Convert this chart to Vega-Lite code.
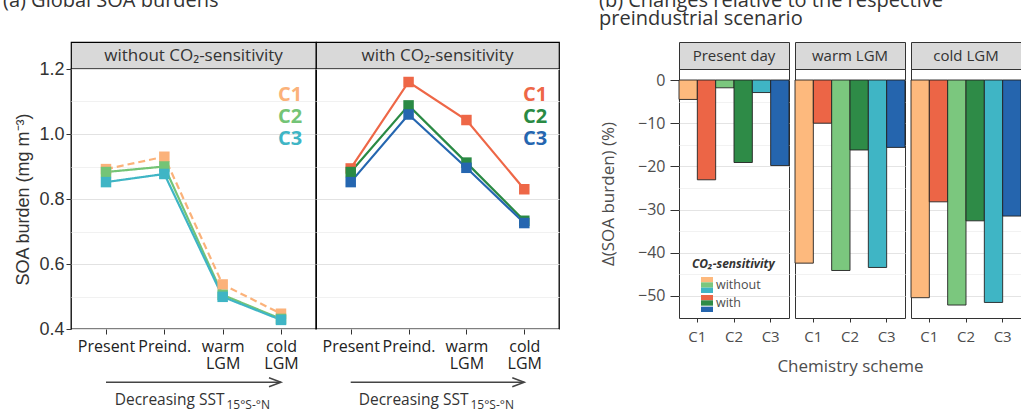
{
  "$schema": "https://vega.github.io/schema/vega-lite/v6.json",
  "padding": {"left": 2, "top": -10, "right": 0, "bottom": 0},
  "config": {
    "font": "Open Sans",
    "axis": {"labelColor": "#333", "titleColor": "#333", "tickColor": "#333", "titleFontWeight": "normal", "domain": false},
    "legend": {"labelFont": "Open Sans", "titleFont": "Open Sans"}
  },
  "datasets": {
    "burden": [
      {"panel": "without", "scheme": "C1", "scenario": "Present", "burden": 0.892},
      {"panel": "without", "scheme": "C1", "scenario": "Preind.", "burden": 0.930},
      {"panel": "without", "scheme": "C1", "scenario": "warm LGM", "burden": 0.537},
      {"panel": "without", "scheme": "C1", "scenario": "cold LGM", "burden": 0.447},
      {"panel": "without", "scheme": "C2", "scenario": "Present", "burden": 0.883},
      {"panel": "without", "scheme": "C2", "scenario": "Preind.", "burden": 0.900},
      {"panel": "without", "scheme": "C2", "scenario": "warm LGM", "burden": 0.505},
      {"panel": "without", "scheme": "C2", "scenario": "cold LGM", "burden": 0.431},
      {"panel": "without", "scheme": "C3", "scenario": "Present", "burden": 0.852},
      {"panel": "without", "scheme": "C3", "scenario": "Preind.", "burden": 0.877},
      {"panel": "without", "scheme": "C3", "scenario": "warm LGM", "burden": 0.499},
      {"panel": "without", "scheme": "C3", "scenario": "cold LGM", "burden": 0.428},
      {"panel": "with", "scheme": "C1", "scenario": "Present", "burden": 0.894},
      {"panel": "with", "scheme": "C1", "scenario": "Preind.", "burden": 1.160},
      {"panel": "with", "scheme": "C1", "scenario": "warm LGM", "burden": 1.043},
      {"panel": "with", "scheme": "C1", "scenario": "cold LGM", "burden": 0.830},
      {"panel": "with", "scheme": "C2", "scenario": "Present", "burden": 0.883},
      {"panel": "with", "scheme": "C2", "scenario": "Preind.", "burden": 1.088},
      {"panel": "with", "scheme": "C2", "scenario": "warm LGM", "burden": 0.912},
      {"panel": "with", "scheme": "C2", "scenario": "cold LGM", "burden": 0.733},
      {"panel": "with", "scheme": "C3", "scenario": "Present", "burden": 0.852},
      {"panel": "with", "scheme": "C3", "scenario": "Preind.", "burden": 1.060},
      {"panel": "with", "scheme": "C3", "scenario": "warm LGM", "burden": 0.896},
      {"panel": "with", "scheme": "C3", "scenario": "cold LGM", "burden": 0.726}
    ],
    "change": [
      {"period": "Present day", "scheme": "C1", "sensitivity": "without", "change": -4.5},
      {"period": "Present day", "scheme": "C1", "sensitivity": "with", "change": -23.1},
      {"period": "Present day", "scheme": "C2", "sensitivity": "without", "change": -1.8},
      {"period": "Present day", "scheme": "C2", "sensitivity": "with", "change": -19.1},
      {"period": "Present day", "scheme": "C3", "sensitivity": "without", "change": -2.9},
      {"period": "Present day", "scheme": "C3", "sensitivity": "with", "change": -19.8},
      {"period": "warm LGM", "scheme": "C1", "sensitivity": "without", "change": -42.4},
      {"period": "warm LGM", "scheme": "C1", "sensitivity": "with", "change": -10.0},
      {"period": "warm LGM", "scheme": "C2", "sensitivity": "without", "change": -44.1},
      {"period": "warm LGM", "scheme": "C2", "sensitivity": "with", "change": -16.2},
      {"period": "warm LGM", "scheme": "C3", "sensitivity": "without", "change": -43.4},
      {"period": "warm LGM", "scheme": "C3", "sensitivity": "with", "change": -15.6},
      {"period": "cold LGM", "scheme": "C1", "sensitivity": "without", "change": -50.4},
      {"period": "cold LGM", "scheme": "C1", "sensitivity": "with", "change": -28.2},
      {"period": "cold LGM", "scheme": "C2", "sensitivity": "without", "change": -52.1},
      {"period": "cold LGM", "scheme": "C2", "sensitivity": "with", "change": -32.6},
      {"period": "cold LGM", "scheme": "C3", "sensitivity": "without", "change": -51.5},
      {"period": "cold LGM", "scheme": "C3", "sensitivity": "with", "change": -31.5}
    ]
  },
  "columns": 8,
  "spacing": 0,
  "bounds": "flush",
  "align": "each",
  "resolve": {"scale": {"color": "independent"}, "legend": {"color": "independent"}},
  "concat": [
    {"width": 245, "height": 27, "view": {"fill": "#d9d9d9", "stroke": "#000", "strokeWidth": 1.2},
     "title": {"text": "(a) Global SOA burdens", "anchor": "start", "frame": "group", "dx": -68, "fontSize": 20, "fontWeight": "normal", "color": "#333", "baseline": "alphabetic", "offset": 15},
     "data": {"values": [{"label": "without CO₂-sensitivity"}]},
     "mark": {"type": "text", "fontSize": 17, "color": "#333"},
     "encoding": {"text": {"field": "label"}}},
    {"width": 243, "height": 27, "view": {"fill": "#d9d9d9", "stroke": "#000", "strokeWidth": 1.2},
     "data": {"values": [{"label": "with CO₂-sensitivity"}]},
     "mark": {"type": "text", "fontSize": 17, "color": "#333"},
     "encoding": {"text": {"field": "label"}}},
    {"width": 120, "height": 1, "view": {"stroke": null}, "data": {"values": []}, "mark": "text", "encoding": {}},
    {"width": 110, "height": 27, "view": {"fill": "#d9d9d9", "stroke": "#333", "strokeWidth": 1},
     "title": {"text": ["(b) Changes relative to the respective", "preindustrial scenario"], "anchor": "start", "frame": "group", "dx": -80, "fontSize": 20, "lineHeight": 18.5, "fontWeight": "normal", "color": "#333", "baseline": "alphabetic", "offset": -3},
     "data": {"values": [{"label": "Present day"}]},
     "mark": {"type": "text", "fontSize": 15, "color": "#333"}, "encoding": {"text": {"field": "label"}}},
    {"width": 6, "height": 1, "view": {"stroke": null}, "data": {"values": []}, "mark": "text", "encoding": {}},
    {"width": 110, "height": 27, "view": {"fill": "#d9d9d9", "stroke": "#333", "strokeWidth": 1},
     "data": {"values": [{"label": "warm LGM"}]},
     "mark": {"type": "text", "fontSize": 15, "color": "#333"}, "encoding": {"text": {"field": "label"}}},
    {"width": 6, "height": 1, "view": {"stroke": null}, "data": {"values": []}, "mark": "text", "encoding": {}},
    {"width": 110, "height": 27, "view": {"fill": "#d9d9d9", "stroke": "#333", "strokeWidth": 1},
     "data": {"values": [{"label": "cold LGM"}]},
     "mark": {"type": "text", "fontSize": 15, "color": "#333"}, "encoding": {"text": {"field": "label"}}},

    {
      "width": 245, "height": 260,
      "view": {"stroke": "#000", "strokeWidth": 1.3},
      "data": {"name": "burden"},
      "transform": [{"filter": "datum.panel == 'without'"}],
      "mark": {"type": "line", "strokeWidth": 2.2, "point": {"shape": "square", "filled": true, "size": 110, "opacity": 1}},
      "encoding": {
        "x": {"field": "scenario", "type": "nominal", "sort": ["Present", "Preind.", "warm LGM", "cold LGM"],
              "scale": {"type": "point", "domain": ["Present", "Preind.", "warm LGM", "cold LGM"], "padding": 0.6},
              "axis": {"title": null, "labelExpr": "split(datum.label, ' ')", "labelAngle": 0, "labelFontSize": 16, "labelLineHeight": 17, "labelPadding": 4, "tickSize": 5, "labelOverlap": false, "labelBound": false, "grid": false, "labelColor": "#222"}},
        "y": {"field": "burden", "type": "quantitative", "scale": {"domain": [0.4, 1.2], "nice": false, "zero": false},
              "axis": {"title": "SOA burden (mg m⁻³)", "values": [0.4, 0.5, 0.6, 0.7, 0.8, 0.9, 1.0, 1.1, 1.2],
                       "labelExpr": "round(datum.value*10) % 2 == 0 ? format(datum.value, '.1f') : ''",
                       "labelFont": "Liberation Sans", "labelFontSize": 18, "titleFont": "Liberation Sans", "titleFontSize": 18,
                       "titlePadding": 6, "tickSize": 5, "labelPadding": 2,
                       "tickOpacity": {"condition": {"test": "round(datum.value*10) % 2 == 0", "value": 1}, "value": 0},
                       "gridColor": {"condition": {"test": "round(datum.value*10) % 2 == 0", "value": "#e2e2e2"}, "value": "#f1f1f1"},
                       "gridWidth": 1.2}},
        "color": {"field": "scheme", "type": "nominal", "scale": {"domain": ["C1", "C2", "C3"], "range": ["#fbb27a", "#74c476", "#3fb5c5"]},
                  "legend": {"title": null, "orient": "none", "legendX": 187, "legendY": 16, "symbolOpacity": 0, "symbolSize": 0, "labelOffset": 0,
                             "labelFontSize": 20, "labelFontWeight": "bold", "rowPadding": 2, "padding": 0,
                             "labelColor": {"expr": "datum.value == 'C1' ? '#fbb27a' : datum.value == 'C2' ? '#74c476' : '#3fb5c5'"}}},
        "strokeDash": {"field": "scheme", "type": "nominal", "scale": {"domain": ["C1", "C2", "C3"], "range": [[7, 4], [1, 0], [1, 0]]}, "legend": null}
      }
    },
    {
      "width": 243, "height": 260,
      "view": {"stroke": "#000", "strokeWidth": 1.3},
      "data": {"name": "burden"},
      "transform": [{"filter": "datum.panel == 'with'"}],
      "mark": {"type": "line", "strokeWidth": 2.2, "point": {"shape": "square", "filled": true, "size": 110, "opacity": 1}},
      "encoding": {
        "x": {"field": "scenario", "type": "nominal", "sort": ["Present", "Preind.", "warm LGM", "cold LGM"],
              "scale": {"type": "point", "domain": ["Present", "Preind.", "warm LGM", "cold LGM"], "padding": 0.6},
              "axis": {"title": null, "labelExpr": "split(datum.label, ' ')", "labelAngle": 0, "labelFontSize": 16, "labelLineHeight": 17, "labelPadding": 4, "tickSize": 5, "labelOverlap": false, "labelBound": false, "grid": false, "labelColor": "#222"}},
        "y": {"field": "burden", "type": "quantitative", "scale": {"domain": [0.4, 1.2], "nice": false, "zero": false},
              "axis": {"title": null, "labels": false, "ticks": false, "values": [0.4, 0.5, 0.6, 0.7, 0.8, 0.9, 1.0, 1.1, 1.2],
                       "gridColor": {"condition": {"test": "round(datum.value*10) % 2 == 0", "value": "#e2e2e2"}, "value": "#f1f1f1"},
                       "gridWidth": 1.2}},
        "color": {"field": "scheme", "type": "nominal", "scale": {"domain": ["C1", "C2", "C3"], "range": ["#ee6747", "#2a8a44", "#2566b0"]},
                  "legend": {"title": null, "orient": "none", "legendX": 187, "legendY": 16, "symbolOpacity": 0, "symbolSize": 0, "labelOffset": 0,
                             "labelFontSize": 20, "labelFontWeight": "bold", "rowPadding": 2, "padding": 0,
                             "labelColor": {"expr": "datum.value == 'C1' ? '#ee6747' : datum.value == 'C2' ? '#2a8a44' : '#2566b0'"}}}
      }
    },
    {"width": 1, "height": 1, "view": {"stroke": null}, "data": {"values": []}, "mark": "text", "encoding": {}},
    {
      "width": 110, "height": 249,
      "view": {"stroke": "#333", "strokeWidth": 1},
      "data": {"name": "change"},
      "transform": [{"filter": "datum.period == 'Present day'"}],
      "encoding": {
        "x": {"field": "scheme", "type": "nominal", "scale": {"domain": ["C1", "C2", "C3"], "paddingInner": 0, "paddingOuter": 0},
              "axis": {"title": null, "labelAngle": 0, "labelFontSize": 15, "tickSize": 4, "labelPadding": 7, "labelColor": "#4d4d4d"}},
        "xOffset": {"field": "sensitivity", "type": "nominal", "scale": {"domain": ["without", "with"], "paddingInner": 0, "paddingOuter": 0}},
        "y": {"field": "change", "type": "quantitative", "scale": {"domain": [-55.1, 2.55], "nice": false},
              "axis": {"title": "Δ(SOA burden) (%)", "titleFontSize": 17, "titlePadding": 20, "titleColor": "#4d4d4d",
                       "values": [-50, -45, -40, -35, -30, -25, -20, -15, -10, -5, 0],
                       "labelExpr": "datum.value % 10 == 0 ? format(datum.value, 'd') : ''",
                       "labelFontSize": 16, "labelColor": "#4d4d4d", "tickSize": 9, "labelPadding": 5,
                       "tickOpacity": {"condition": {"test": "datum.value % 10 == 0", "value": 1}, "value": 0},
                       "gridColor": {"condition": {"test": "datum.value % 10 == 0", "value": "#e4e4e4"}, "value": "#f2f2f2"},
                       "gridWidth": 1.2}}
      },
      "layer": [
        {"transform": [{"filter": "datum.scheme == 'C1'"}], "mark": {"type": "bar", "stroke": "#222", "strokeWidth": 0.9},
         "encoding": {"color": {"field": "sensitivity", "type": "nominal", "scale": {"domain": ["without", "with"], "range": ["#fdb97d", "#ec6546"]},
           "legend": {"title": "CO₂-sensitivity", "orient": "none", "legendX": 13, "legendY": 190, "titleFontSize": 12, "titleFontStyle": "italic", "titleFontWeight": "bold", "titleColor": "#333", "titlePadding": 6,
                      "symbolType": "M0.125,-1H1.625V-0.333H0.125Z", "symbolSize": 256, "symbolStrokeWidth": 0, "symbolOpacity": 1,
                      "labelFontSize": 12.5, "labelColor": "#4d4d4d", "labelOffset": 8, "rowPadding": 3, "padding": 0}}}},
        {"transform": [{"filter": "datum.scheme == 'C2'"}], "mark": {"type": "bar", "stroke": "#222", "strokeWidth": 0.9},
         "encoding": {"color": {"field": "sensitivity", "type": "nominal", "scale": {"domain": ["without", "with"], "range": ["#7bc77e", "#2e8b47"]},
           "legend": {"title": "CO₂-sensitivity", "orient": "none", "legendX": 13, "legendY": 190, "titleFontSize": 12, "titleFontStyle": "italic", "titleFontWeight": "bold", "titleColor": "transparent", "titlePadding": 6,
                      "symbolType": "M0.125,-0.333H1.625V0.333H0.125Z", "symbolSize": 256, "symbolStrokeWidth": 0, "symbolOpacity": 1,
                      "labelFontSize": 12.5, "labelColor": "transparent", "labelOffset": 8, "rowPadding": 3, "padding": 0}}}},
        {"transform": [{"filter": "datum.scheme == 'C3'"}], "mark": {"type": "bar", "stroke": "#222", "strokeWidth": 0.9},
         "encoding": {"color": {"field": "sensitivity", "type": "nominal", "scale": {"domain": ["without", "with"], "range": ["#3fb5c5", "#2565ae"]},
           "legend": {"title": "CO₂-sensitivity", "orient": "none", "legendX": 13, "legendY": 190, "titleFontSize": 12, "titleFontStyle": "italic", "titleFontWeight": "bold", "titleColor": "transparent", "titlePadding": 6,
                      "symbolType": "M0.125,0.333H1.625V1H0.125Z", "symbolSize": 256, "symbolStrokeWidth": 0, "symbolOpacity": 1,
                      "labelFontSize": 12.5, "labelColor": "transparent", "labelOffset": 8, "rowPadding": 3, "padding": 0}}}}
      ],
      "resolve": {"scale": {"color": "independent"}, "legend": {"color": "independent"}}
    },
    {"width": 1, "height": 1, "view": {"stroke": null}, "data": {"values": []}, "mark": "text", "encoding": {}},
    {
      "width": 110, "height": 249,
      "view": {"stroke": "#333", "strokeWidth": 1},
      "data": {"name": "change"},
      "transform": [{"filter": "datum.period == 'warm LGM'"}],
      "encoding": {
        "x": {"field": "scheme", "type": "nominal", "scale": {"domain": ["C1", "C2", "C3"], "paddingInner": 0, "paddingOuter": 0},
              "axis": {"title": "Chemistry scheme", "titleFontSize": 17, "titlePadding": 14, "titleColor": "#4d4d4d", "labelAngle": 0, "labelFontSize": 15, "tickSize": 4, "labelPadding": 7, "labelColor": "#4d4d4d"}},
        "xOffset": {"field": "sensitivity", "type": "nominal", "scale": {"domain": ["without", "with"], "paddingInner": 0, "paddingOuter": 0}},
        "y": {"field": "change", "type": "quantitative", "scale": {"domain": [-55.1, 2.55], "nice": false},
              "axis": {"title": null, "labels": false, "ticks": false, "values": [-50, -45, -40, -35, -30, -25, -20, -15, -10, -5, 0],
                       "gridColor": {"condition": {"test": "datum.value % 10 == 0", "value": "#e4e4e4"}, "value": "#f2f2f2"},
                       "gridWidth": 1.2}}
      },
      "layer": [
        {"transform": [{"filter": "datum.scheme == 'C1'"}], "mark": {"type": "bar", "stroke": "#222", "strokeWidth": 0.9},
         "encoding": {"color": {"field": "sensitivity", "type": "nominal", "scale": {"domain": ["without", "with"], "range": ["#fdb97d", "#ec6546"]}, "legend": null}}},
        {"transform": [{"filter": "datum.scheme == 'C2'"}], "mark": {"type": "bar", "stroke": "#222", "strokeWidth": 0.9},
         "encoding": {"color": {"field": "sensitivity", "type": "nominal", "scale": {"domain": ["without", "with"], "range": ["#7bc77e", "#2e8b47"]}, "legend": null}}},
        {"transform": [{"filter": "datum.scheme == 'C3'"}], "mark": {"type": "bar", "stroke": "#222", "strokeWidth": 0.9},
         "encoding": {"color": {"field": "sensitivity", "type": "nominal", "scale": {"domain": ["without", "with"], "range": ["#3fb5c5", "#2565ae"]}, "legend": null}}}
      ],
      "resolve": {"scale": {"color": "independent"}, "legend": {"color": "independent"}}
    },
    {"width": 1, "height": 1, "view": {"stroke": null}, "data": {"values": []}, "mark": "text", "encoding": {}},
    {
      "width": 110, "height": 249,
      "view": {"stroke": "#333", "strokeWidth": 1},
      "data": {"name": "change"},
      "transform": [{"filter": "datum.period == 'cold LGM'"}],
      "encoding": {
        "x": {"field": "scheme", "type": "nominal", "scale": {"domain": ["C1", "C2", "C3"], "paddingInner": 0, "paddingOuter": 0},
              "axis": {"title": null, "labelAngle": 0, "labelFontSize": 15, "tickSize": 4, "labelPadding": 7, "labelColor": "#4d4d4d"}},
        "xOffset": {"field": "sensitivity", "type": "nominal", "scale": {"domain": ["without", "with"], "paddingInner": 0, "paddingOuter": 0}},
        "y": {"field": "change", "type": "quantitative", "scale": {"domain": [-55.1, 2.55], "nice": false},
              "axis": {"title": null, "labels": false, "ticks": false, "values": [-50, -45, -40, -35, -30, -25, -20, -15, -10, -5, 0],
                       "gridColor": {"condition": {"test": "datum.value % 10 == 0", "value": "#e4e4e4"}, "value": "#f2f2f2"},
                       "gridWidth": 1.2}}
      },
      "layer": [
        {"transform": [{"filter": "datum.scheme == 'C1'"}], "mark": {"type": "bar", "stroke": "#222", "strokeWidth": 0.9},
         "encoding": {"color": {"field": "sensitivity", "type": "nominal", "scale": {"domain": ["without", "with"], "range": ["#fdb97d", "#ec6546"]}, "legend": null}}},
        {"transform": [{"filter": "datum.scheme == 'C2'"}], "mark": {"type": "bar", "stroke": "#222", "strokeWidth": 0.9},
         "encoding": {"color": {"field": "sensitivity", "type": "nominal", "scale": {"domain": ["without", "with"], "range": ["#7bc77e", "#2e8b47"]}, "legend": null}}},
        {"transform": [{"filter": "datum.scheme == 'C3'"}], "mark": {"type": "bar", "stroke": "#222", "strokeWidth": 0.9},
         "encoding": {"color": {"field": "sensitivity", "type": "nominal", "scale": {"domain": ["without", "with"], "range": ["#3fb5c5", "#2565ae"]}, "legend": null}}}
      ],
      "resolve": {"scale": {"color": "independent"}, "legend": {"color": "independent"}}
    },

    {
      "width": 245, "height": 76, "view": {"stroke": null},
      "data": {"values": [{}]},
      "layer": [
        {"mark": {"type": "rule", "color": "#444", "strokeWidth": 1.5},
         "encoding": {"x": {"datum": "Present", "type": "nominal", "scale": {"type": "point", "domain": ["Present", "Preind.", "warm LGM", "cold LGM"], "padding": 0.6}, "axis": null},
                      "x2": {"datum": "cold LGM"},
                      "y": {"datum": 0.3, "type": "quantitative", "scale": {"domain": [0, 1]}, "axis": null}}},
        {"mark": {"type": "point", "shape": "M-1,-0.375L0,0L-1,0.375", "filled": false, "color": "#444", "strokeWidth": 1.5, "size": 576, "opacity": 1},
         "encoding": {"x": {"datum": "cold LGM", "type": "nominal"}, "y": {"datum": 0.3, "type": "quantitative"}}},
        {"mark": {"type": "text", "text": "Decreasing SST", "align": "right", "dx": 31, "dy": 18, "fontSize": 15.5, "color": "#333"},
         "encoding": {"y": {"datum": 0.3, "type": "quantitative"}}},
        {"mark": {"type": "text", "text": "15°S-°N", "align": "left", "dx": 33, "dy": 23, "fontSize": 12, "color": "#333"},
         "encoding": {"y": {"datum": 0.3, "type": "quantitative"}}}
      ]
    },
    {
      "width": 243, "height": 76, "view": {"stroke": null},
      "data": {"values": [{}]},
      "layer": [
        {"mark": {"type": "rule", "color": "#444", "strokeWidth": 1.5},
         "encoding": {"x": {"datum": "Present", "type": "nominal", "scale": {"type": "point", "domain": ["Present", "Preind.", "warm LGM", "cold LGM"], "padding": 0.6}, "axis": null},
                      "x2": {"datum": "cold LGM"},
                      "y": {"datum": 0.3, "type": "quantitative", "scale": {"domain": [0, 1]}, "axis": null}}},
        {"mark": {"type": "point", "shape": "M-1,-0.375L0,0L-1,0.375", "filled": false, "color": "#444", "strokeWidth": 1.5, "size": 576, "opacity": 1},
         "encoding": {"x": {"datum": "cold LGM", "type": "nominal"}, "y": {"datum": 0.3, "type": "quantitative"}}},
        {"mark": {"type": "text", "text": "Decreasing SST", "align": "right", "dx": 31, "dy": 18, "fontSize": 15.5, "color": "#333"},
         "encoding": {"y": {"datum": 0.3, "type": "quantitative"}}},
        {"mark": {"type": "text", "text": "15°S-°N", "align": "left", "dx": 33, "dy": 23, "fontSize": 12, "color": "#333"},
         "encoding": {"y": {"datum": 0.3, "type": "quantitative"}}}
      ]
    },
    {"width": 1, "height": 1, "view": {"stroke": null}, "data": {"values": []}, "mark": "text", "encoding": {}},
    {"width": 1, "height": 1, "view": {"stroke": null}, "data": {"values": []}, "mark": "text", "encoding": {}},
    {"width": 1, "height": 1, "view": {"stroke": null}, "data": {"values": []}, "mark": "text", "encoding": {}},
    {"width": 1, "height": 1, "view": {"stroke": null}, "data": {"values": []}, "mark": "text", "encoding": {}},
    {"width": 1, "height": 1, "view": {"stroke": null}, "data": {"values": []}, "mark": "text", "encoding": {}},
    {"width": 1, "height": 1, "view": {"stroke": null}, "data": {"values": []}, "mark": "text", "encoding": {}}
  ]
}
